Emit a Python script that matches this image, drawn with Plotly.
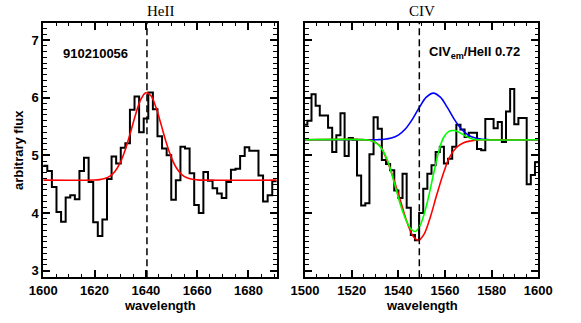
import numpy as np
import plotly.graph_objects as go

# ---- HeII panel: binned spectrum (bin centres) and flux ----
wave_heii = [1600.67, 1602.46, 1604.25, 1606.04, 1607.83, 1609.62, 1611.41, 1613.20, 1614.99, 1616.78,
             1618.57, 1620.36, 1622.15, 1623.94, 1625.73, 1627.52, 1629.31, 1631.10, 1632.89, 1634.68,
             1636.47, 1638.26, 1640.05, 1641.84, 1643.63, 1645.42, 1647.21, 1649.00, 1650.79, 1652.58,
             1654.37, 1656.16, 1657.95, 1659.74, 1661.53, 1663.32, 1665.11, 1666.90, 1668.69, 1670.48,
             1672.27, 1674.06, 1675.85, 1677.64, 1679.43, 1681.22, 1683.01, 1684.80, 1686.59, 1688.38,
             1690.17]
flux_heii = [4.82, 4.73, 4.45, 4.02, 3.85, 4.27, 4.31, 4.24, 4.73, 4.96,
             4.54, 3.84, 3.60, 3.89, 4.59, 4.98, 4.86, 5.13, 5.21, 5.79,
             6.02, 5.40, 5.64, 6.09, 5.80, 5.33, 5.12, 5.00, 4.23, 4.57,
             5.15, 5.12, 4.69, 4.14, 4.00, 4.71, 4.56, 4.43, 4.34, 4.26,
             4.54, 4.75, 4.77, 4.99, 5.14, 5.08, 5.08, 4.65, 4.20, 4.31,
             4.55]

# gaussian fit (red)
fit_heii_wave = [1600, 1620, 1622, 1624, 1626, 1628, 1630, 1632, 1634, 1636, 1638, 1640,
                 1642, 1644, 1646, 1648, 1650, 1652, 1654, 1656, 1658, 1660, 1662, 1691]
fit_heii_flux = [4.570, 4.573, 4.580, 4.598, 4.640, 4.725, 4.874, 5.102, 5.397, 5.710, 5.965, 6.086,
                 6.033, 5.824, 5.524, 5.214, 4.957, 4.776, 4.667, 4.611, 4.585, 4.575, 4.571, 4.570]

# ---- CIV panel ----
wave_civ = [1500.11, 1501.89, 1503.66, 1505.43, 1507.21, 1508.98, 1510.76, 1512.53, 1514.31, 1516.08,
            1517.85, 1519.63, 1521.40, 1523.18, 1524.95, 1526.72, 1528.50, 1530.27, 1532.05, 1533.82,
            1535.59, 1537.37, 1539.14, 1540.92, 1542.69, 1544.46, 1546.24, 1548.01, 1549.79, 1551.56,
            1553.33, 1555.11, 1556.88, 1558.66, 1560.43, 1562.20, 1563.98, 1565.75, 1567.53, 1569.30,
            1571.07, 1572.85, 1574.62, 1576.40, 1578.17, 1579.94, 1581.72, 1583.49, 1585.27, 1587.04,
            1588.81, 1590.59, 1592.36, 1594.14, 1595.91, 1597.68, 1599.46]
flux_civ = [5.53, 5.60, 6.06, 5.86, 5.69, 5.69, 5.48, 5.06, 5.35, 5.73,
            4.99, 5.30, 5.27, 4.65, 4.13, 4.17, 5.02, 5.66, 5.46, 4.92,
            4.85, 4.74, 4.39, 4.26, 4.68, 4.09, 3.62, 3.53, 4.00, 4.42,
            4.68, 4.83, 5.06, 5.15, 4.86, 4.94, 5.15, 5.53, 5.45, 5.32,
            5.39, 5.39, 5.11, 5.09, 5.63, 5.63, 5.47, 5.58, 5.23, 5.76,
            6.15, 5.54, 5.65, 5.65, 4.50, 4.66, 4.88]

# emission component (blue)
em_civ_wave = [1500, 1525, 1528, 1531, 1534, 1537, 1540, 1543, 1546, 1549, 1552, 1555,
               1558, 1561, 1564, 1567, 1570, 1573, 1576, 1579, 1582, 1600]
em_civ_flux = [5.270, 5.270, 5.270, 5.272, 5.279, 5.300, 5.352, 5.456, 5.624, 5.831, 6.009, 6.080,
               6.009, 5.831, 5.624, 5.456, 5.352, 5.300, 5.279, 5.272, 5.270, 5.270]

# absorption only (red)
abs_civ_wave = [1500, 1526, 1529, 1532, 1535, 1538, 1541, 1544, 1546.5, 1548.7, 1551,
                1553.5, 1556.5, 1559.5, 1562, 1565, 1568, 1571, 1575, 1580, 1600]
abs_civ_flux = [5.27, 5.27, 5.25, 5.17, 4.93, 4.59, 4.20, 3.81, 3.59, 3.53, 3.63,
                3.90, 4.32, 4.71, 4.97, 5.14, 5.22, 5.25, 5.27, 5.27, 5.27]

# total fit (green)
tot_civ_wave = [1500, 1526, 1529, 1532, 1535, 1538, 1541, 1543.6, 1545.7, 1547.3, 1549.3,
                1552, 1555, 1557.2, 1559.4, 1561.8, 1564, 1566.5, 1569, 1572, 1576, 1600]
tot_civ_flux = [5.27, 5.27, 5.25, 5.16, 4.95, 4.56, 4.13, 3.85, 3.71, 3.68, 3.78,
                4.12, 4.66, 5.05, 5.31, 5.42, 5.43, 5.39, 5.33, 5.28, 5.27, 5.27]

line_heii = 1640.42
line_civ = 1549.0
object_id = "910210056"
ratio_text = "CIV<sub>em</sub>/HeII 0.72"


def steps(wave, flux):
    w = np.asarray(wave, dtype=float)
    f = np.asarray(flux, dtype=float)
    half = np.diff(w).mean() / 2
    return np.append(w - half, w[-1] + half), np.append(f, f[-1])


BOLD = dict(family="Liberation Sans", size=13, color="black", weight="bold")
SERIF = dict(family="Liberation Serif", size=15, color="black")

fig = go.Figure()

xs, ys = steps(wave_heii, flux_heii)
fig.add_trace(go.Scatter(x=xs, y=ys, mode="lines", line=dict(color="black", width=2, shape="hv"),
                         xaxis="x", yaxis="y"))
fig.add_trace(go.Scatter(x=fit_heii_wave, y=fit_heii_flux, mode="lines",
                         line=dict(color="#ff0000", width=1.6, shape="spline"), xaxis="x", yaxis="y"))

xs, ys = steps(wave_civ, flux_civ)
fig.add_trace(go.Scatter(x=xs, y=ys, mode="lines", line=dict(color="black", width=2, shape="hv"),
                         xaxis="x2", yaxis="y2"))
fig.add_trace(go.Scatter(x=em_civ_wave, y=em_civ_flux, mode="lines",
                         line=dict(color="#0000ff", width=1.6, shape="spline"), xaxis="x2", yaxis="y2"))
fig.add_trace(go.Scatter(x=abs_civ_wave, y=abs_civ_flux, mode="lines",
                         line=dict(color="#ff0000", width=1.6, shape="spline"), xaxis="x2", yaxis="y2"))
fig.add_trace(go.Scatter(x=tot_civ_wave, y=tot_civ_flux, mode="lines",
                         line=dict(color="#00ff00", width=1.6, shape="spline"), xaxis="x2", yaxis="y2"))

dash = dict(color="black", width=1.5, dash="7px,4px")
fig.add_shape(type="line", xref="x", yref="y domain", x0=line_heii, x1=line_heii, y0=0, y1=1, line=dash)
fig.add_shape(type="line", xref="x2", yref="y2 domain", x0=line_civ, x1=line_civ, y0=0, y1=1, line=dash)

axis = dict(showline=True, linecolor="black", linewidth=2, mirror="ticks", ticks="inside",
            ticklen=7, tickwidth=1.5, tickcolor="black", showgrid=False, zeroline=False,
            tickfont=BOLD, automargin=False)
xminor = dict(dtick=5, ticks="inside", ticklen=3.5, tickwidth=1.2, tickcolor="black", showgrid=False)
yminor = dict(dtick=0.1, ticks="inside", ticklen=3.5, tickwidth=1.2, tickcolor="black", showgrid=False)


def label(text, x, y, font, **kw):
    return dict(text=text, xref="paper", yref="paper", x=x, y=y, showarrow=False,
                xanchor="center", yanchor="middle", font=font, **kw)


fig.update_layout(
    width=581, height=323,
    margin=dict(l=0, r=0, t=0, b=0, autoexpand=False),
    paper_bgcolor="white", plot_bgcolor="white",
    showlegend=False,
    xaxis=dict(axis, domain=[0.0745, 0.4762], range=[1600, 1691], tick0=1600, dtick=20,
               minor=xminor, anchor="y"),
    yaxis=dict(axis, domain=[0.1415, 0.9297], range=[2.886, 7.30], dtick=1, minor=yminor,
               anchor="x"),
    xaxis2=dict(axis, domain=[0.525, 0.9265], range=[1500, 1600], tick0=1500, dtick=20,
                minor=xminor, anchor="y2"),
    yaxis2=dict(axis, domain=[0.1415, 0.9297], range=[2.886, 7.30], dtick=1, minor=yminor,
                showticklabels=False, anchor="x2"),
    annotations=[
        label("HeII", 0.2754, 1 - 11 / 323, SERIF),
        label("CIV", 0.7258, 1 - 11 / 323, SERIF),
        label("wavelength", 0.2754, 1 - 305 / 323, BOLD),
        label("wavelength", 0.7258, 1 - 305 / 323, BOLD),
        label("arbitrary flux", 18 / 581, 0.5356, BOLD, textangle=-90),
        dict(text=object_id, xref="x", yref="y", x=1606.9, y=6.76, xanchor="left",
             yanchor="middle", showarrow=False, font=BOLD),
        dict(text=ratio_text, xref="x2", yref="y2", x=1552.2, y=6.78, xanchor="left",
             yanchor="middle", showarrow=False, font=BOLD),
    ],
)

# the page's default body margin would shift the figure by 8px
fig.write_html("out.html", config={"displayModeBar": False},
               post_script="document.body.style.margin='0';")
